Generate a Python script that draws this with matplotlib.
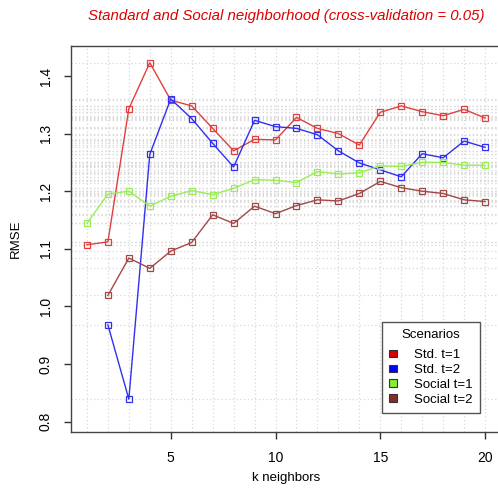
import numpy as np
import matplotlib
matplotlib.use("Agg")
import matplotlib.pyplot as plt
from matplotlib.patches import Patch

plt.rcParams['font.family'] = ['Liberation Sans', 'DejaVu Sans']

# datos
k = list(range(1, 21))
std_t1 = [1.107, 1.112, 1.343, 1.423, 1.358, 1.348, 1.309, 1.270, 1.290, 1.289,
          1.328, 1.309, 1.300, 1.280, 1.337, 1.348, 1.338, 1.331, 1.342, 1.327]
std_t2 = [np.nan, 0.968, 0.839, 1.264, 1.360, 1.326, 1.283, 1.242, 1.323, 1.312,
          1.309, 1.298, 1.270, 1.249, 1.237, 1.225, 1.265, 1.258, 1.287, 1.276]
social_t1 = [1.144, 1.195, 1.200, 1.174, 1.191, 1.201, 1.194, 1.205, 1.220, 1.219,
             1.215, 1.234, 1.230, 1.232, 1.244, 1.243, 1.250, 1.250, 1.245, 1.245]
social_t2 = [np.nan, 1.019, 1.084, 1.066, 1.096, 1.111, 1.159, 1.144, 1.174, 1.161,
             1.175, 1.185, 1.183, 1.196, 1.217, 1.206, 1.200, 1.196, 1.185, 1.182]
labels = ['Std. t=1', 'Std. t=2', 'Social t=1', 'Social t=2']

series = [std_t1, std_t2, social_t1, social_t2]
line_cols = ['#e04040', '#3030ee', '#99ee55', '#a04848']
fill_cols = ['#dd0000', '#0000ff', '#88ee33', '#8b2a2a']

fig = plt.figure(figsize=(4.98, 4.92), dpi=100)
ax = fig.add_axes([71 / 498, 60 / 492, 430 / 498, 386 / 492])

# rejilla: verticales en cada k, horizontales en cada valor
for x in k:
    ax.axvline(x, color='#d8d8d8', ls=(0, (1, 2)), lw=0.9, zorder=0)
for s in series:
    for v in s:
        if not np.isnan(v):
            ax.axhline(v, color='#d8d8d8', ls=(0, (1, 2)), lw=0.9, zorder=0)

for s, c in zip(series, line_cols):
    ax.plot(k, s, color=c, lw=1, marker='s', ms=4.2, mfc='none', mec=c, mew=0.9)

ax.set_xlim(0.24, 20.76)
ax.set_ylim(0.782, 1.452)
ax.set_xticks([5, 10, 15, 20])
ax.set_yticks([0.8, 0.9, 1.0, 1.1, 1.2, 1.3, 1.4])
ax.set_yticklabels(['0.8', '0.9', '1.0', '1.1', '1.2', '1.3', '1.4'],
                   rotation=90, va='center')
ax.tick_params(direction='out', length=5, width=1, colors='#333333',
               labelcolor='black', labelsize=10)
ax.tick_params(axis='x', pad=9)
ax.tick_params(axis='y', pad=8)
for sp in ax.spines.values():
    sp.set_color('#444444')
    sp.set_linewidth(1)

ax.set_xlabel('k neighbors', fontsize=9.5, labelpad=5)
ax.set_ylabel('RMSE', fontsize=9.5, labelpad=12)
ax.set_title('Standard and Social neighborhood (cross-validation = 0.05)',
             color='#dd0000', style='italic', fontsize=10.8, pad=19)

handles = [Patch(facecolor=c, edgecolor='#333333', lw=0.8) for c in fill_cols]
leg = ax.legend(handles, labels, title='Scenarios', loc='lower right',
                bbox_to_anchor=(0.951, 0.049), borderaxespad=0,
                fontsize=9.5, title_fontsize=9.5, fancybox=False,
                edgecolor='#555555', framealpha=1, borderpad=0.55,
                handlelength=0.6, handleheight=0.5, labelspacing=0.22,
                handletextpad=1.3)
leg.get_frame().set_linewidth(1)
leg._legend_box.sep = 6

fig.savefig('out.png', dpi=100)
